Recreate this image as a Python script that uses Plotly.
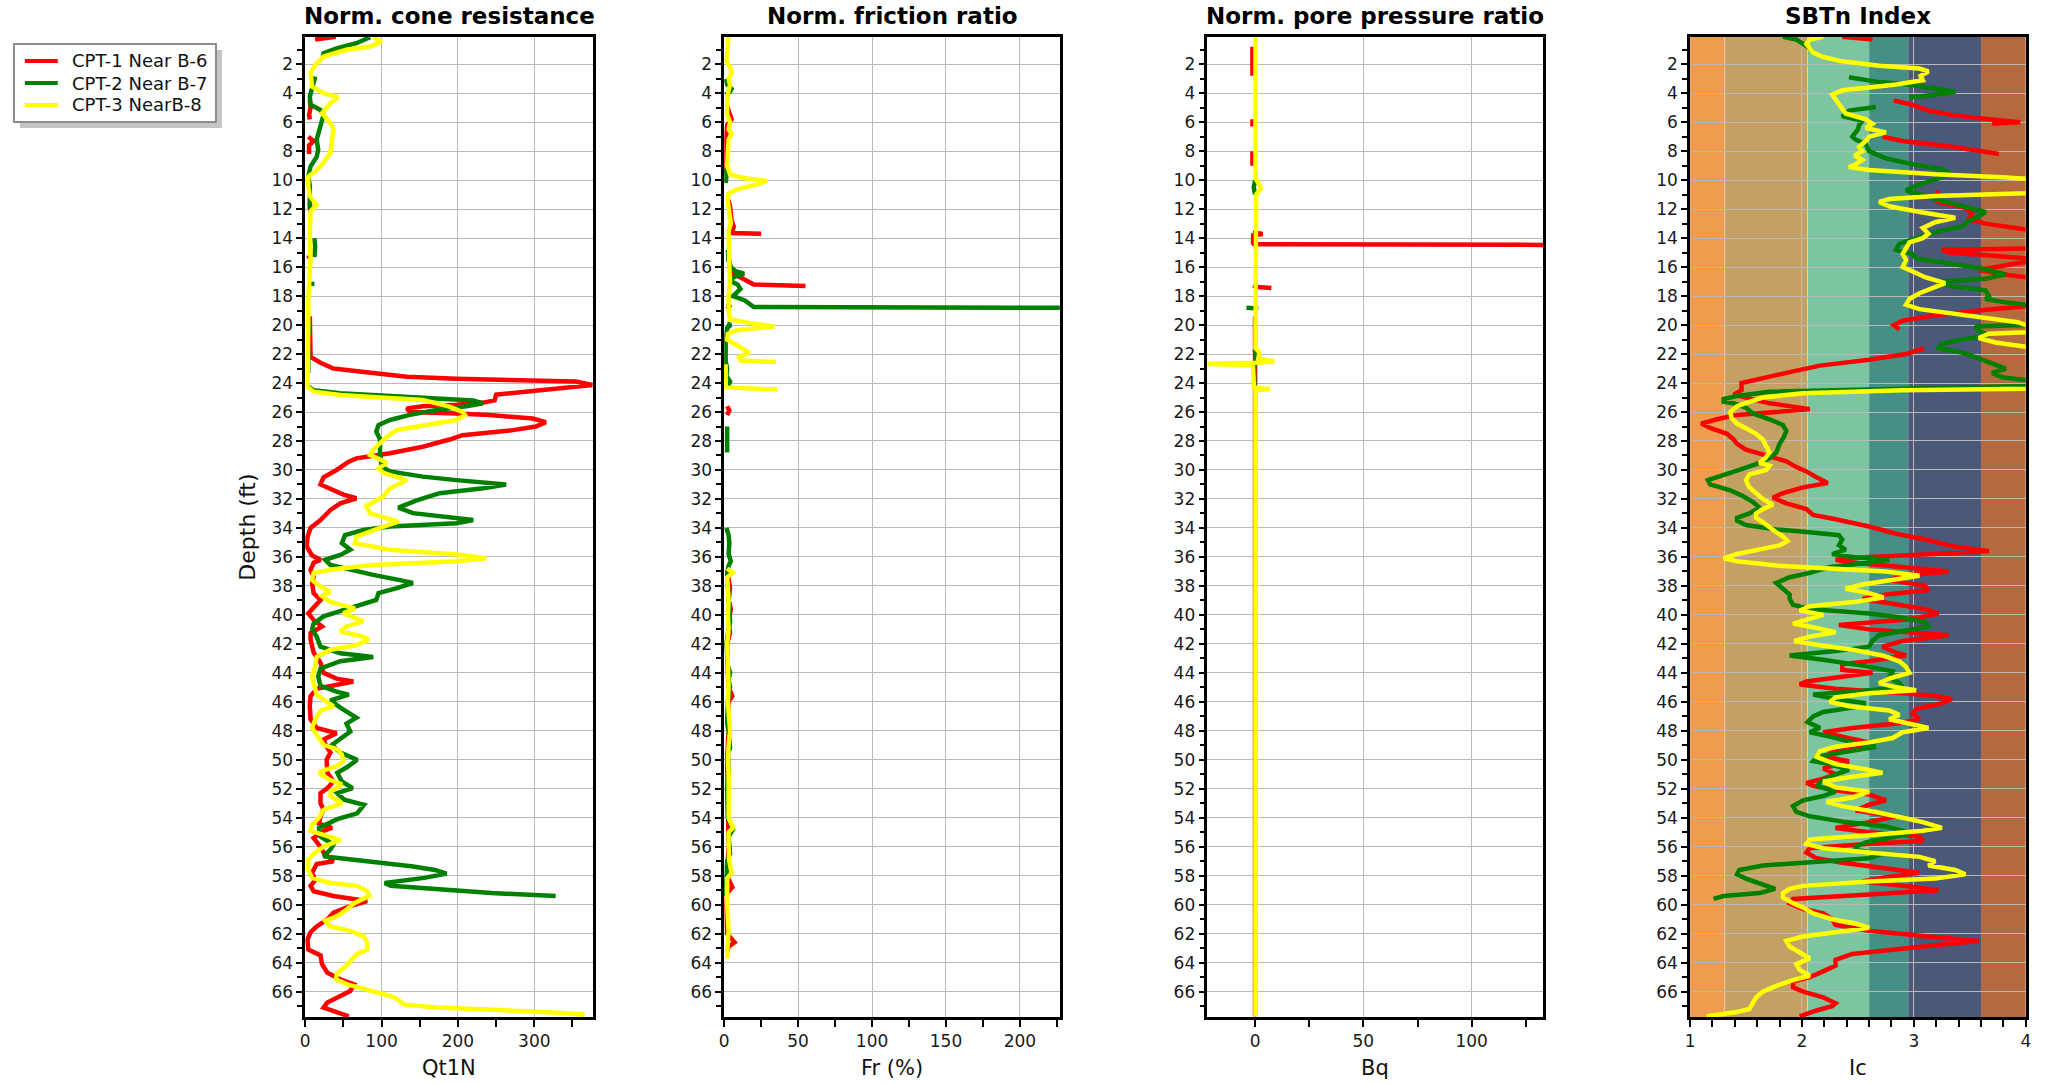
import plotly.graph_objects as go

# ---------------------------------------------------------------------------
# CPT soundings: (depth ft, value) pairs, None breaks a line
# ---------------------------------------------------------------------------
SERIES_NAMES = ["CPT-1 Near B-6", "CPT-2 Near B-7", "CPT-3 NearB-8"]

# Normalised cone resistance Qt1N
QT_CPT1 = [(0.1, 40), (0.3, 13), None,
           (4.5, 6), (5.0, 7), (5.5, 5), (5.8, 6), None,
           (7.0, 4), (7.3, 11), (7.6, 5), (8.2, 5), None,
           (11.5, 6), (12.2, 7), None, (15.2, 5), (15.4, 5), None,
           (19.4, 6), (20.5, 6), (21.5, 6), (22.2, 7), (22.6, 20), (23.0, 37), (23.3, 89), (23.56, 133),
           (23.7, 198), (23.8, 263), (23.9, 354), (24.14, 376), (24.37, 328), (24.6, 276), (24.8, 250),
           (25.2, 248), (25.35, 233), (25.5, 198), (25.6, 154), (25.75, 133), (26.0, 137), (26.1, 198),
           (26.2, 241), (26.45, 298), (26.7, 315), (27.0, 302), (27.25, 272), (27.6, 206), (27.9, 189),
           (28.4, 154), (28.85, 111), (29.2, 67), (29.43, 57), (30.0, 41), (30.5, 24), (31.0, 20),
           (31.4, 37), (31.7, 50), (31.95, 67), (32.3, 46), (32.76, 33), (33.45, 20), (34.0, 7),
           (34.6, 3), (35.3, 2), (35.9, 9), (36.2, 20), (36.4, 11), (36.9, 7), (37.35, 11), (37.8, 9),
           (38.5, 11), (38.97, 20), (39.5, 11), (39.9, 4), (40.35, 11), (40.8, 22), (41.26, 7),
           (41.7, 7), (42.6, 11), (43.3, 20), (44.0, 24), (44.4, 41), (44.6, 63), (44.8, 41), (45.1, 15),
           (45.6, 7), (46.3, 6), (47.2, 7), (47.8, 15), (48.16, 41), (48.6, 24), (49.1, 28), (49.5, 33),
           (50.0, 28), (50.9, 29), (51.5, 37), (51.95, 29), (52.3, 20), (53.0, 20), (53.45, 24),
           (53.9, 20), (54.4, 18), (54.7, 35), (54.9, 24), (55.4, 11), (56.0, 20), (56.4, 24), (57.0, 37),
           (57.2, 15), (57.8, 9), (58.3, 13), (58.7, 7), (59.07, 11), (59.4, 37), (59.75, 81), (60.1, 59),
           (60.55, 37), (61.0, 29), (61.5, 15), (61.9, 7), (62.4, 3), (63.1, 4), (63.5, 20), (64.1, 22),
           (64.7, 29), (65.15, 46), (65.5, 64), (65.95, 59), (66.4, 42), (66.75, 29), (67.1, 24),
           (67.45, 42), (67.7, 57)]
QT_CPT2 = [(0.14, 85), (0.55, 67), (0.9, 41), (1.24, 24), (1.47, 23), None,
           (2.85, 13), (3.54, 9), (4.23, 6), (4.8, 7), (5.15, 20), (5.5, 24), (6.3, 20), (7.2, 15),
           (7.9, 17), (8.4, 15), (9.05, 7), (9.75, 4), (10.4, 6), (11.35, 6), (12.0, 6), None,
           (14.0, 12), (14.6, 13), (15.3, 12), None, (17.0, 9), (17.3, 9), None,
           (19.9, 5), (20.6, 5), None, (21.6, 4), (23.3, 4), None,
           (24.2, 3), (24.5, 11), (24.7, 46), (24.9, 111), (25.06, 176), (25.2, 220), (25.4, 233),
           (25.6, 211), (25.86, 172), (26.2, 137), (26.55, 111), (26.9, 96), (27.35, 93), (27.9, 98),
           (28.85, 98), (29.77, 100), (30.1, 111), (30.46, 154), (30.7, 198), (30.9, 241), (31.0, 263),
           (31.26, 233), (31.6, 176), (32.1, 146), (32.6, 122), (32.98, 141), (33.2, 176), (33.45, 220),
           (33.68, 198), (33.9, 111), (34.14, 76), (34.5, 52), (35.05, 48), (35.5, 59), (35.86, 46),
           (36.2, 26), (36.55, 33), (36.9, 59), (37.24, 89), (37.6, 124), (37.8, 141), (38.15, 120),
           (38.5, 96), (38.97, 93), (39.4, 67), (39.77, 41), (40.1, 24), (40.6, 11), (41.0, 9),
           (41.5, 15), (42.2, 20), (42.65, 46), (42.9, 89), (43.2, 46), (43.7, 20), (44.25, 17),
           (44.9, 20), (45.3, 41), (45.5, 57), (45.9, 33), (46.4, 46), (47.1, 67), (47.5, 54),
           (48.05, 59), (48.5, 46), (48.97, 35), (49.5, 46), (50.0, 68), (50.5, 55), (50.9, 42),
           (51.5, 48), (51.95, 62), (52.3, 42), (52.75, 51), (53.1, 77), (53.7, 68), (54.1, 42),
           (54.7, 18), (55.3, 20), (55.85, 37), (56.2, 33), (56.65, 24), (56.8, 46), (57.1, 99),
           (57.35, 139), (57.6, 170), (57.85, 185), (58.15, 156), (58.5, 104), (58.7, 112), (59.07, 200),
           (59.2, 244), (59.4, 328)]
QT_CPT3 = [(0.14, 89), (0.44, 100), (0.78, 85), (1.0, 54), (1.47, 24), (2.05, 13), (2.6, 7), (3.54, 9),
           (4.0, 24), (4.28, 43), (4.7, 33), (5.38, 22), (6.07, 33), (6.5, 37), (7.2, 35), (8.1, 33),
           (8.8, 24), (9.4, 13), (9.75, 4), (10.4, 4), (11.1, 6), (11.7, 15), (12.16, 7), (13.65, 6),
           (15.5, 7), (16.6, 6), (18.25, 4), (20.0, 4), (22.6, 4), (24.25, 3), (24.6, 11), (24.83, 46),
           (25.0, 98), (25.17, 154), (25.4, 172), (25.63, 189), (26.0, 206), (26.2, 209), (26.55, 198),
           (26.9, 154), (27.24, 120), (27.7, 107), (28.16, 98), (28.6, 89), (28.96, 85), (29.3, 98),
           (29.5, 107), (29.9, 96), (30.2, 102), (30.7, 133), (31.26, 111), (31.84, 102), (32.5, 80),
           (33.0, 85), (33.3, 107), (33.56, 122), (34.0, 98), (34.6, 67), (35.05, 65), (35.5, 111),
           (35.86, 206), (36.1, 237), (36.3, 198), (36.55, 89), (36.85, 37), (37.1, 11), (37.6, 9),
           (38.05, 20), (38.4, 33), (38.7, 22), (39.1, 33), (39.55, 65), (39.9, 50), (40.45, 76),
           (40.8, 54), (41.15, 46), (41.5, 76), (41.7, 83), (42.1, 67), (42.4, 33), (42.9, 15),
           (43.56, 13), (44.25, 9), (44.94, 13), (45.5, 15), (46.0, 28), (46.3, 37), (46.6, 20),
           (47.24, 13), (47.8, 9), (48.4, 17), (48.97, 24), (49.3, 43), (49.65, 48), (50.1, 50),
           (50.45, 41), (50.8, 20), (51.0, 20), (51.4, 33), (51.7, 48), (52.2, 33), (52.5, 33),
           (53.0, 48), (53.45, 24), (54.0, 18), (54.5, 9), (54.9, 7), (55.3, 29), (55.55, 46), (56.0, 24),
           (56.4, 13), (56.9, 4), (57.6, 4), (58.15, 9), (58.5, 33), (58.7, 68), (59.07, 81), (59.4, 84),
           (59.9, 64), (60.3, 55), (60.8, 42), (61.1, 26), (61.5, 33), (61.8, 59), (62.2, 77), (62.6, 81),
           (63.1, 81), (63.4, 68), (63.9, 59), (64.35, 51), (64.7, 42), (65.15, 40), (65.5, 55),
           (65.85, 77), (66.2, 104), (66.4, 117), (66.9, 130), (67.1, 174), (67.25, 244), (67.45, 333),
           (67.6, 366)]

# Normalised friction ratio Fr (%)
FR_CPT1 = [(4.9, 2), (5.4, 4), (5.8, 5), (6.2, 2), (7.0, 1.5), (8.5, 1.5), (9.5, 1.5), None,
           (11.3, 2.5), (11.8, 4), (12.3, 4.5), (12.8, 5), (13.2, 6.5), (13.5, 5), (13.65, 5), (13.7, 25), None,
           (15.3, 3), (15.8, 4), (16.3, 4.5), (16.6, 9), (16.9, 14), (17.2, 20), (17.3, 55), None,
           (18.5, 2.5), (18.7, 3.5), (18.9, 2), None, (25.6, 2), (25.9, 3.5), (26.2, 2), None,
           (36.9, 2), (37.5, 3), (38.2, 4), (38.6, 3.5), (39.0, 3), (39.6, 4.5), (40.0, 3.5), (40.5, 3),
           (41.2, 4), (41.5, 3.5), (42.0, 2), (44.0, 2.5), (45.0, 3), (45.6, 5.5), (46.0, 3), (47.0, 2.5),
           (48.0, 3), (50.0, 2), (52.0, 2.5), (53.0, 3), (54.0, 2.5), (55.0, 3.5), (56.0, 3), (57.0, 2.5),
           (58.0, 2), (58.8, 5.5), (59.2, 2), (60.0, 1.5), (62.0, 2), (62.6, 7), (62.9, 3), (63.3, 2)]
FR_CPT2 = [(3.0, 1), (3.4, 2), (3.7, 5), (3.9, 4), (4.1, 1), None, (9.2, 1), (9.8, 1.5), (10.2, 1), None,
           (14.8, 2.5), (15.6, 3), (16.0, 4.5), (16.3, 8), (16.45, 13.5), (16.7, 6), (17.0, 5), (17.2, 9),
           (17.5, 11), (17.8, 8), (18.0, 6), (18.3, 14), (18.6, 19), (18.75, 20), (18.82, 250), None,
           (19.9, 2), (20.0, 4.5), (20.2, 2), (20.6, 1.5), (21.0, 1), (22.5, 1), (23.0, 2), (23.5, 1.5),
           (23.9, 4), (24.1, 3), (24.3, 1), None, (27.0, 2), (28.8, 2), None,
           (34.0, 1.5), (34.5, 3), (35.0, 3.5), (35.8, 3), (36.3, 4.5), (36.6, 3), (37.2, 2), (38.0, 2.5),
           (39.0, 2.5), (40.0, 3.5), (40.5, 4), (41.0, 3), (42.0, 1.5), (43.5, 2.5), (44.0, 4), (44.5, 3),
           (45.0, 4), (45.5, 3), (46.0, 2.5), (47.5, 2), (48.0, 3), (49.2, 4), (49.5, 2.5), (51.0, 3),
           (52.0, 2), (54.0, 2.5), (54.8, 6), (55.3, 3), (56.5, 4), (57.0, 2), (59.4, 1)]
FR_CPT3 = [(0.1, 3), (1.0, 2), (1.8, 1.5), (2.2, 4), (2.6, 5), (3.0, 3), (3.4, 4), (3.8, 3), (4.5, 2),
           (5.5, 2), (6.0, 4), (6.5, 3), (6.8, 5), (7.2, 3), (8.0, 2.5), (9.0, 2), (9.6, 4), (9.85, 13),
           (10.05, 29), (10.3, 22), (10.6, 10), (10.9, 3), (11.5, 2.5), (12.5, 4), (13.0, 4.5), (13.5, 3),
           (14.5, 3), (16.0, 3.5), (17.0, 4), (18.0, 3), (19.0, 3), (19.6, 4), (19.85, 17), (20.1, 34),
           (20.35, 9), (20.6, 2.5), (21.0, 2), (21.6, 12), (21.9, 17), (22.2, 10), (22.45, 11), (22.55, 35),
           None, (22.7, 1), (24.3, 1), (24.45, 36), None,
           (36.8, 2), (37.1, 6), (37.4, 2), (38.0, 2.5), (39.0, 3), (40.0, 2.5), (41.0, 3), (42.0, 2),
           (43.0, 2.5), (44.0, 3), (45.0, 3), (46.0, 2.5), (47.0, 3), (48.0, 4), (49.0, 3), (50.0, 2.5),
           (51.0, 3), (52.0, 3), (53.0, 2.5), (54.0, 3), (54.7, 6), (55.0, 3), (56.0, 3), (57.0, 3.5),
           (57.8, 5), (58.2, 2), (60.0, 2), (61.0, 2.5), (61.8, 3), (62.5, 2.5), (63.7, 2)]

# Normalised pore pressure ratio Bq
BQ_CPT1 = [(0.8, -1.2), (2.8, -1.2), None, (5.8, -1.2), (6.3, -1.2), None, (8.0, -1.2), (9.0, -1.2), None,
           (13.6, -1.0), (13.72, 3.5), (13.8, -0.8), (14.3, -1.0), (14.42, -0.5), (14.47, 140), None,
           (17.3, -1.0), (17.38, 1.0), (17.45, 7.5), None, (19.4, 0), (67.7, 0)]
BQ_CPT2 = [(10.0, 0), (10.5, -0.6), (11.0, 0), None, (18.8, -4.0), (18.85, 1.5), None,
           (19.95, -0.8), (20.05, 0.5), None, (21.7, 0), (22.5, 0.2), (23.0, -0.5), (24.2, -0.2)]
BQ_CPT3 = [(0.1, 0.2), (9.9, 0.2), (10.3, 2.0), (10.6, 2.6), (11.0, 0.5), (21.6, 0.2), (21.9, 2.0),
           (22.3, 1.5), (22.52, 9.0), (22.6, 0.2), (22.68, -25), (22.75, -1.0), (24.3, -0.5),
           (24.42, 7.0), (24.5, 0.2), (67.7, 0.2)]

# Soil behaviour type index Ic
IC_CPT1 = [(0.1, 2.36), (0.3, 2.63), None,
           (4.5, 2.82), (4.8, 2.99), (5.2, 3.13), (5.5, 3.34), (5.8, 3.67), (6.0, 3.95), (6.1, 3.70), None,
           (7.0, 2.72), (7.3, 2.90), (7.7, 3.34), (8.0, 3.61), (8.2, 3.76), None,
           (10.7, 3.21), (11.5, 3.21), (11.9, 3.46), (12.3, 3.52), (12.7, 3.49), (13.0, 3.64), (13.4, 4.0),
           (14.0, 4.4), (14.7, 4.1), (14.8, 3.25), (15.0, 3.31), (15.3, 4.0), (15.5, 4.2), (15.7, 3.95),
           (16.2, 3.58), (16.5, 3.79), (16.7, 4.0), (17.5, 4.4), (18.7, 4.0), (19.0, 3.58), (19.4, 3.13),
           (19.7, 2.90), (20.0, 2.82), (20.3, 2.87), None,
           (21.6, 3.09), (22.0, 2.93), (22.4, 2.60), (22.8, 2.16), (23.3, 1.86), (23.8, 1.55), (24.0, 1.46),
           (24.5, 1.46), (24.8, 1.39), (25.4, 1.71), (25.8, 2.07), (26.0, 1.77), (26.2, 1.42), (26.5, 1.24),
           (26.8, 1.10), (27.1, 1.18), (27.5, 1.33), (27.9, 1.39), (28.2, 1.42), (28.6, 1.50), (29.0, 1.68),
           (29.4, 1.86), (29.8, 1.95), (30.1, 2.04), (30.5, 2.13), (30.9, 2.23), (31.2, 2.01), (31.6, 1.83),
           (31.9, 1.74), (32.3, 1.86), (32.7, 2.04), (33.1, 2.10), (33.4, 2.30), (33.9, 2.60), (34.4, 2.84),
           (34.8, 3.10), (35.3, 3.37), (35.6, 3.67), (35.8, 3.19), (36.0, 2.60), (36.2, 2.30), (36.4, 2.45),
           (36.6, 2.75), (36.8, 3.05), (37.0, 3.31), (37.3, 2.90), (37.6, 2.78), (38.0, 3.10), (38.3, 3.13),
           (38.6, 2.75), (38.9, 2.54), (39.2, 2.78), (39.6, 3.10), (39.9, 3.22), (40.3, 2.96), (40.7, 2.33),
           (41.0, 2.60), (41.4, 3.31), (41.8, 2.90), (42.2, 2.72), (42.6, 2.84), (42.8, 2.93), (43.2, 2.60),
           (43.4, 2.36), (43.8, 2.36), (44.0, 2.63), (44.3, 2.30), (44.6, 2.04), (44.8, 1.98), (45.1, 2.30),
           (45.4, 2.90), (45.6, 3.19), (45.8, 3.34), (46.1, 3.25), (46.5, 3.02), (46.8, 2.99), (47.2, 3.05),
           (47.5, 2.84), (47.8, 2.45), (48.1, 2.19), (48.4, 2.36), (48.8, 2.60), (49.1, 2.57), (49.5, 2.25),
           (49.8, 2.22), (50.1, 2.42), (50.6, 2.19), (51.0, 2.30), (51.3, 2.19), (51.6, 2.04), (51.8, 2.10),
           (52.1, 2.30), (52.4, 2.60), (52.8, 2.75), (53.1, 2.60), (53.5, 2.48), (53.9, 2.84), (54.3, 2.60),
           (54.7, 2.30), (55.0, 2.60), (55.3, 3.05), (55.6, 3.08), (55.8, 2.60), (56.1, 2.07), (56.4, 2.04),
           (56.8, 2.13), (57.1, 2.36), (57.5, 2.78), (57.8, 3.05), (58.1, 2.75), (58.4, 2.54), (58.7, 2.90),
           (59.0, 3.22), (59.3, 2.60), (59.6, 1.92), (59.9, 1.89), (60.3, 2.01), (60.6, 2.19), (61.0, 2.27),
           (61.4, 2.30), (61.8, 2.60), (62.2, 3.13), (62.5, 3.58), (62.8, 3.19), (63.1, 2.78), (63.4, 2.45),
           (63.8, 2.30), (64.2, 2.30), (64.6, 2.19), (65.0, 2.07), (65.3, 1.92), (65.7, 1.92), (66.0, 2.01),
           (66.4, 2.19), (66.8, 2.30), (67.0, 2.27), (67.3, 2.13), (67.7, 1.98)]
IC_CPT2 = [(0.1, 1.83), (0.3, 1.95), (0.6, 2.01), (0.9, 2.07), (1.2, 2.10), None,
           (2.9, 2.42), (3.2, 2.66), (3.4, 2.96), (3.6, 3.13), (3.9, 3.37), (4.1, 3.19), (4.3, 2.96), None,
           (4.95, 2.66), (5.2, 2.42), (5.6, 2.36), (5.9, 2.54), (6.2, 2.51), (6.5, 2.50), (7.0, 2.45),
           (7.2, 2.48), (7.5, 2.57), (8.0, 2.60), (8.5, 2.75), (8.9, 2.99), (9.3, 3.28), (9.5, 3.31),
           (9.8, 3.25), (10.1, 3.13), (10.4, 3.02), (10.7, 2.93), (11.0, 3.05), (11.3, 3.19), (11.6, 3.34),
           (11.9, 3.49), (12.2, 3.64), (12.5, 3.58), (12.8, 3.49), (13.2, 3.43), (13.6, 3.19), (14.0, 3.02),
           (14.4, 2.87), (14.8, 2.84), (15.1, 2.99), (15.4, 3.02), (15.8, 3.34), (16.1, 3.61), (16.5, 3.82),
           (16.8, 3.64), (17.0, 3.25), (17.3, 3.31), (17.6, 3.64), (18.0, 3.67), (18.2, 3.64), (18.4, 3.79),
           (18.6, 4.0), (19.3, 4.4), (20.0, 4.0), (20.1, 3.55), (20.4, 3.58), (20.7, 3.67), (21.0, 3.43),
           (21.3, 3.25), (21.6, 3.22), (21.9, 3.43), (22.3, 3.58), (22.7, 3.73), (23.0, 3.82), (23.3, 3.70),
           (23.6, 3.79), (23.8, 4.0), (24.0, 4.2), (24.2, 4.0), (24.4, 2.60), (24.6, 1.71), (24.9, 1.42),
           (25.1, 1.30), (25.3, 1.30), (25.4, 1.39), (25.7, 1.50), (26.1, 1.56), (26.5, 1.71), (26.9, 1.83),
           (27.3, 1.86), (27.7, 1.84), (28.2, 1.80), (28.8, 1.77), (29.2, 1.71), (29.6, 1.59), (30.0, 1.44),
           (30.4, 1.27), (30.7, 1.16), (31.0, 1.18), (31.4, 1.36), (31.8, 1.47), (32.2, 1.56), (32.6, 1.62),
           (33.0, 1.53), (33.3, 1.42), (33.5, 1.42), (33.8, 1.50), (34.1, 1.77), (34.3, 2.07), (34.5, 2.33),
           (34.8, 2.36), (35.2, 2.33), (35.5, 2.39), (35.8, 2.27), (36.0, 2.45), (36.2, 2.78), (36.4, 2.60),
           (36.7, 2.25), (37.1, 2.07), (37.4, 1.89), (37.8, 1.77), (38.2, 1.83), (38.6, 1.89), (38.9, 1.89),
           (39.3, 1.92), (39.6, 2.07), (39.9, 2.60), (40.2, 2.90), (40.5, 3.10), (40.8, 3.13), (41.1, 2.90),
           (41.4, 2.69), (41.8, 2.63), (42.2, 2.60), (42.5, 2.30), (42.8, 1.89), (43.1, 2.19), (43.5, 2.54),
           (43.9, 2.81), (44.3, 2.78), (44.7, 2.87), (45.0, 2.90), (45.3, 2.45), (45.5, 2.10), (45.8, 2.30),
           (46.1, 2.57), (46.4, 2.45), (46.7, 2.19), (47.0, 2.10), (47.4, 2.05), (47.8, 2.16), (48.1, 2.07),
           (48.4, 2.25), (48.8, 2.45), (49.1, 2.66), (49.5, 2.36), (49.8, 2.13), (50.1, 2.10), (50.3, 2.25),
           (50.7, 2.42), (51.0, 2.30), (51.4, 2.19), (51.8, 2.13), (52.2, 2.30), (52.5, 2.19), (52.8, 2.01),
           (53.2, 1.92), (53.6, 1.95), (53.9, 2.07), (54.3, 2.39), (54.6, 2.75), (54.9, 2.90), (55.1, 2.96),
           (55.4, 2.78), (55.7, 2.57), (56.0, 2.48), (56.2, 2.47), (56.5, 2.72), (56.8, 2.60), (57.1, 2.01),
           (57.3, 1.65), (57.6, 1.44), (57.9, 1.42), (58.2, 1.50), (58.6, 1.65), (58.9, 1.76), (59.2, 1.62),
           (59.4, 1.30), (59.6, 1.21)]
IC_CPT3 = [(0.1, 2.19), (0.3, 2.07), (0.6, 2.04), (0.9, 2.07), (1.2, 2.10), (1.5, 2.19), (1.8, 2.36),
           (2.1, 2.69), (2.3, 3.05), (2.5, 3.13), (2.8, 3.06), (3.1, 3.08), (3.4, 2.84), (3.6, 2.60),
           (3.8, 2.36), (4.1, 2.27), (4.4, 2.30), (4.8, 2.33), (5.1, 2.36), (5.4, 2.39), (5.8, 2.57),
           (6.1, 2.63), (6.4, 2.57), (6.7, 2.75), (7.0, 2.60), (7.3, 2.57), (7.7, 2.51), (8.0, 2.54),
           (8.3, 2.47), (8.6, 2.54), (8.9, 2.48), (9.1, 2.42), (9.3, 2.60), (9.6, 3.19), (9.8, 3.79),
           (9.9, 4.0), (10.4, 4.4), (10.9, 4.0), (11.1, 3.19), (11.3, 2.78), (11.5, 2.69), (11.8, 2.78),
           (12.2, 3.05), (12.6, 3.37), (12.9, 3.19), (13.3, 3.08), (13.7, 3.13), (14.0, 3.08), (14.3, 2.96),
           (14.7, 2.93), (15.1, 2.90), (15.5, 2.93), (16.0, 2.90), (16.3, 2.99), (16.7, 3.10), (17.1, 3.28),
           (17.4, 3.19), (17.8, 3.05), (18.2, 2.96), (18.6, 2.93), (18.9, 3.05), (19.2, 3.34), (19.5, 3.64),
           (19.8, 3.93), (20.0, 4.0), (20.25, 4.3), (20.5, 4.0), (20.6, 3.67), (20.9, 3.58), (21.2, 3.73),
           (21.5, 4.0), (23.0, 4.4), (24.4, 4.0), (24.5, 2.90), (24.7, 2.01), (24.9, 1.77), (25.0, 1.65),
           (25.3, 1.53), (25.6, 1.42), (26.0, 1.36), (26.4, 1.37), (26.8, 1.42), (27.1, 1.50), (27.5, 1.59),
           (27.9, 1.65), (28.3, 1.68), (28.8, 1.71), (29.2, 1.67), (29.5, 1.62), (29.7, 1.71), (30.0, 1.68),
           (30.3, 1.53), (30.7, 1.50), (31.2, 1.53), (31.6, 1.59), (32.0, 1.65), (32.4, 1.74), (32.7, 1.65),
           (33.0, 1.59), (33.3, 1.59), (33.6, 1.65), (34.0, 1.71), (34.3, 1.77), (34.6, 1.83), (34.9, 1.87),
           (35.2, 1.80), (35.5, 1.59), (35.8, 1.42), (36.1, 1.30), (36.3, 1.42), (36.6, 1.77), (36.8, 2.30),
           (37.0, 2.75), (37.3, 3.05), (37.6, 2.78), (37.9, 2.54), (38.2, 2.39), (38.5, 2.60), (38.8, 2.73),
           (39.1, 2.48), (39.4, 2.07), (39.7, 1.98), (40.0, 2.19), (40.3, 2.07), (40.6, 1.92), (40.9, 2.13),
           (41.2, 2.30), (41.5, 2.07), (41.8, 1.93), (42.1, 2.16), (42.4, 2.45), (42.8, 2.72), (43.2, 2.87),
           (43.6, 2.93), (44.0, 2.96), (44.4, 2.78), (44.7, 2.69), (45.0, 2.84), (45.2, 3.02), (45.4, 2.60),
           (45.7, 2.30), (46.0, 2.25), (46.3, 2.42), (46.6, 2.78), (46.9, 2.87), (47.2, 2.78), (47.5, 2.96),
           (47.8, 3.13), (48.1, 2.90), (48.5, 2.81), (48.8, 2.60), (49.1, 2.30), (49.4, 2.16), (49.8, 2.13),
           (50.0, 2.20), (50.3, 2.30), (50.7, 2.60), (50.9, 2.72), (51.2, 2.42), (51.5, 2.19), (51.9, 2.30),
           (52.2, 2.60), (52.6, 2.45), (52.9, 2.22), (53.2, 2.36), (53.6, 2.66), (54.0, 2.90), (54.3, 3.08),
           (54.7, 3.25), (54.9, 3.08), (55.2, 2.60), (55.5, 2.07), (55.8, 2.04), (56.1, 2.19), (56.4, 2.60),
           (56.7, 3.05), (57.0, 3.19), (57.3, 3.13), (57.6, 3.37), (57.9, 3.46), (58.2, 3.19), (58.4, 2.60),
           (58.7, 2.01), (58.9, 1.89), (59.2, 1.83), (59.5, 1.83), (59.9, 1.92), (60.2, 2.01), (60.6, 2.10),
           (61.0, 2.27), (61.3, 2.48), (61.6, 2.60), (61.9, 2.30), (62.2, 2.01), (62.5, 1.86), (62.9, 1.89),
           (63.3, 1.98), (63.7, 2.07), (64.1, 1.95), (64.5, 1.98), (64.9, 2.07), (65.2, 1.92), (65.6, 1.77),
           (66.0, 1.65), (66.4, 1.59), (66.8, 1.56), (67.2, 1.53), (67.4, 1.42), (67.7, 1.15)]

# Robertson SBTn zone boundaries on the Ic scale and their fill colours
IC_ZONE_EDGES = [1.0, 1.31, 2.05, 2.60, 2.95, 3.60, 4.0]
IC_ZONE_COLORS = ["#F09C4E", "#C2A163", "#7CC5A0", "#458F84", "#4A5979", "#B5693F"]

# ---------------------------------------------------------------------------
W, H = 2051, 1084
FONT = "DejaVu Sans"
LINE_COLORS = ["#FF0000", "#008000", "#FFFF00"]
DEPTH_RANGE = [67.75, 0.1]
PLOT_TOP, PLOT_BOTTOM = 36.7, 1017.0  # pixel rows of the plot frame


def split(pairs):
    xs, ys = [], []
    for p in pairs:
        if p is None:
            xs.append(None)
            ys.append(None)
        else:
            ys.append(p[0])
            xs.append(p[1])
    return xs, ys


def px(x):
    return x / W


def py(y):
    return 1 - y / H


panels = [
    dict(title="Norm. cone resistance", xtitle="Qt1N", px=(301.7, 591.0), xrange=[0, 377],
         dtick=100, minor=50, data=[QT_CPT1, QT_CPT2, QT_CPT3]),
    dict(title="Norm. friction ratio", xtitle="Fr (%)", px=(722.7, 1060.0), xrange=[0, 227],
         dtick=50, minor=25, data=[FR_CPT1, FR_CPT2, FR_CPT3]),
    dict(title="Norm. pore pressure ratio", xtitle="Bq", px=(1208.3, 1545.7), xrange=[-22, 133],
         dtick=50, minor=25, data=[BQ_CPT1, BQ_CPT2, BQ_CPT3]),
    dict(title="SBTn Index", xtitle="Ic", px=(1693.3, 2030.7), xrange=[1, 4],
         dtick=1, minor=0.2, data=[IC_CPT1, IC_CPT2, IC_CPT3]),
]

fig = go.Figure()
ydom = [py(PLOT_BOTTOM), py(PLOT_TOP)]
tick_font = dict(family=FONT, size=17, color="#1a1a1a")
grid_color = "#b9b9b9"
annotations = []
shapes = []

for i, pnl in enumerate(panels, start=1):
    xa = "x" if i == 1 else f"x{i}"
    ya = "y" if i == 1 else f"y{i}"
    for s, pairs in enumerate(pnl["data"]):
        xs, ys = split(pairs)
        fig.add_trace(go.Scatter(
            x=xs, y=ys, xaxis=xa, yaxis=ya, mode="lines",
            line=dict(color=LINE_COLORS[s], width=4.5),
            name=SERIES_NAMES[s], showlegend=False, connectgaps=False, hoverinfo="skip"))

    xdom = [px(pnl["px"][0]), px(pnl["px"][1])]
    fig.layout[f"xaxis{'' if i == 1 else i}"] = dict(
        domain=xdom, anchor=ya, range=pnl["xrange"], tick0=0, dtick=pnl["dtick"],
        showgrid=True, gridcolor=grid_color, gridwidth=1, zeroline=False,
        showline=True, linecolor="black", linewidth=2.5, mirror=True,
        ticks="outside", ticklen=7, tickwidth=1.5, tickcolor="black",
        minor=dict(dtick=pnl["minor"], ticks="outside", ticklen=7, tickwidth=1.5,
                   tickcolor="black", showgrid=False),
        tickfont=tick_font, fixedrange=True)
    fig.layout[f"yaxis{'' if i == 1 else i}"] = dict(
        domain=ydom, anchor=xa, range=DEPTH_RANGE, tick0=0, dtick=2,
        showgrid=True, gridcolor=grid_color, gridwidth=1, zeroline=False,
        showline=True, linecolor="black", linewidth=2.5, mirror=True,
        ticks="outside", ticklen=6, tickwidth=1.5, tickcolor="black",
        minor=dict(dtick=1, tick0=0, ticks="outside", ticklen=5, tickwidth=1.5,
                   tickcolor="black", showgrid=False),
        tickfont=tick_font, fixedrange=True)

    xc = (xdom[0] + xdom[1]) / 2
    annotations.append(dict(text=f"<b>{pnl['title']}</b>", x=xc, y=py(16), xref="paper",
                            yref="paper", showarrow=False, xanchor="center", yanchor="middle",
                            font=dict(family=FONT, size=23, color="#000")))
    annotations.append(dict(text=pnl["xtitle"], x=xc, y=py(1068), xref="paper", yref="paper",
                            showarrow=False, xanchor="center", yanchor="middle",
                            font=dict(family=FONT, size=21, color="#111")))

# SBTn zone backgrounds on the Ic panel
for k, col in enumerate(IC_ZONE_COLORS):
    shapes.append(dict(type="rect", xref="x4", yref="y4 domain",
                       x0=IC_ZONE_EDGES[k], x1=IC_ZONE_EDGES[k + 1], y0=0, y1=1,
                       fillcolor=col, line=dict(width=0), layer="below"))
for edge in IC_ZONE_EDGES[1:3]:
    shapes.append(dict(type="line", xref="x4", yref="y4 domain", x0=edge, x1=edge, y0=0, y1=1,
                       line=dict(color="rgba(255,255,255,0.35)", width=1), layer="below"))

# Legend box with drop shadow, one line sample and label per sounding
LEG_LEFT, LEG_TOP, LEG_RIGHT, LEG_BOTTOM = 9, 44, 212, 122
shapes.append(dict(type="rect", xref="paper", yref="paper",
                   x0=px(LEG_LEFT + 6), x1=px(LEG_RIGHT + 6), y0=py(LEG_BOTTOM + 6), y1=py(LEG_TOP + 6),
                   fillcolor="#c4c4c4", line=dict(width=0), layer="above"))
shapes.append(dict(type="rect", xref="paper", yref="paper",
                   x0=px(LEG_LEFT), x1=px(LEG_RIGHT), y0=py(LEG_BOTTOM), y1=py(LEG_TOP),
                   fillcolor="white", line=dict(color="#8c8c8c", width=2), layer="above"))
for s, name in enumerate(SERIES_NAMES):
    row_y = LEG_TOP + 17 + 22 * s
    shapes.append(dict(type="line", xref="paper", yref="paper",
                       x0=px(LEG_LEFT + 11), x1=px(LEG_LEFT + 44), y0=py(row_y), y1=py(row_y),
                       line=dict(color=LINE_COLORS[s], width=4), layer="above"))
    annotations.append(dict(text=name, x=px(LEG_LEFT + 56), y=py(row_y), xref="paper", yref="paper",
                            showarrow=False, xanchor="left", yanchor="middle",
                            font=dict(family=FONT, size=18, color="#111")))

annotations.append(dict(text="Depth (ft)", x=px(244), y=(ydom[0] + ydom[1]) / 2, xref="paper",
                        yref="paper", showarrow=False, textangle=-90, xanchor="center",
                        yanchor="middle", font=dict(family=FONT, size=22, color="#111")))

fig.update_layout(
    width=W, height=H, autosize=False,
    margin=dict(l=0, r=0, t=0, b=0),
    paper_bgcolor="white", plot_bgcolor="white",
    font=dict(family=FONT, color="#111"),
    annotations=annotations, shapes=shapes,
    showlegend=False,
)

fig.write_html("out.html")
